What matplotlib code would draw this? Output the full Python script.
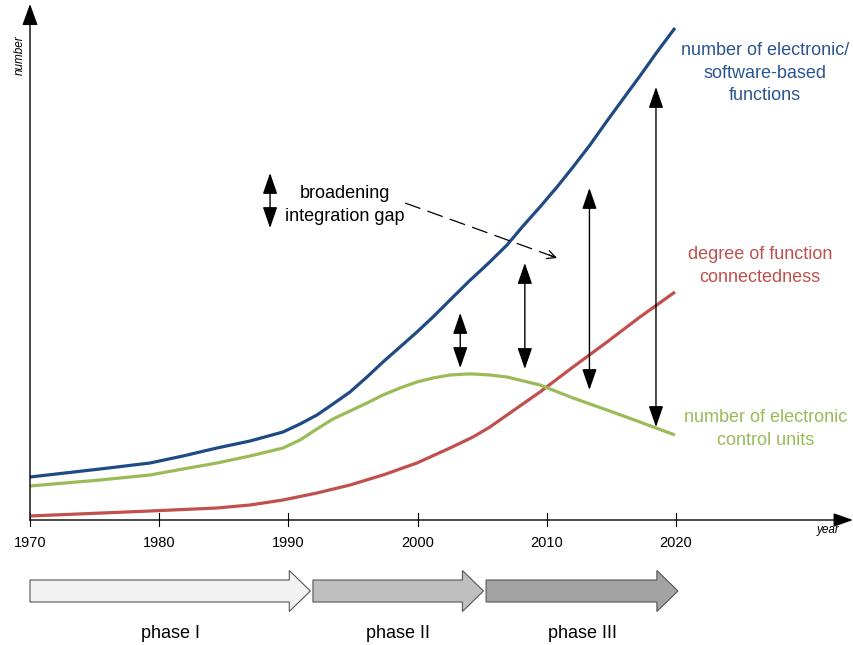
import numpy as np
import matplotlib.pyplot as plt
from matplotlib.patches import FancyArrow

plt.rcParams["font.family"] = ["Liberation Sans", "DejaVu Sans"]

# Curves (year, arbitrary "number")
blue_years = [1970, 1975.42, 1979.29, 1981.84, 1984.47, 1987.03, 1989.58, 1990.9, 1992.21,
              1993.45, 1994.77, 1996.08, 1997.32, 1998.64, 1999.95, 2001.19, 2002.51,
              2004.0, 2005.5, 2006.92, 2008.16, 2009.47, 2010.79, 2012.03, 2013.34, 2014.66,
              2015.9, 2017.21, 2018.53, 2019.92]
blue_vals = [43, 51, 57, 64, 72, 79, 88, 96, 105, 116, 128, 143, 158, 173, 188, 203, 220,
             239, 257, 275, 294, 313, 333, 353, 375, 399, 421, 444, 468, 492]

green_years = [1970, 1975.42, 1979.29, 1981.84, 1984.47, 1987.03, 1989.58, 1990.9, 1992.21,
               1993.45, 1994.77, 1996.08, 1997.32, 1998.64, 1999.95, 2001.19, 2002.51,
               2003.82, 2004.29, 2005.6, 2006.92, 2009.47, 2012.03, 2014.66, 2017.21,
               2019.92]
green_vals = [34, 40, 45, 51, 57, 64, 72, 80, 91, 101, 109, 117, 125, 132, 138, 142, 145,
              146, 146, 145, 143, 135, 122, 110, 98, 85]

red_years = [1970, 1979.29, 1984.47, 1987.03, 1989.58, 1992.21, 1994.77, 1997.32, 1999.95,
             2002.51, 2004.29, 2005.6, 2006.92, 2009.47, 2012.03, 2014.66, 2017.21, 2019.92]
red_vals = [4, 9, 12, 15, 20, 27, 35, 45, 57, 72, 83, 93, 105, 128, 153, 178, 203, 228]

tick_years = [1970, 1980, 1990, 2000, 2010, 2020]

# integration gap arrows
gap_years = [2003.3, 2008.3, 2013.3, 2018.45]
gap_top = [207, 257, 332, 433]
gap_bottom = [152, 151, 130, 93]

# phases
phase_names = ["phase I", "phase II", "phase III"]
phase_start = [1970, 1991.9, 2005.3]
phase_end = [1991.7, 2005.1, 2020.15]
phase_colors = ["#f2f2f2", "#bfbfbf", "#a3a3a3"]

blue = "#1f4a83"
red = "#c0504d"
green = "#9bbb59"

fig = plt.figure(figsize=(8.54, 6.45), dpi=100)
ax = fig.add_axes([0, 0, 1, 1])
ax.set_xlim(1967.678, 2033.777)
ax.set_ylim(-125, 520)
ax.axis("off")

# axes with arrows
ax.annotate("", xy=(1970, 516), xytext=(1970, 0),
            arrowprops=dict(arrowstyle="-|>,head_length=1.1,head_width=0.4",
                            mutation_scale=12, color="black", lw=1, shrinkA=0, shrinkB=0))
ax.annotate("", xy=(2033.7, 0), xytext=(1970, 0),
            arrowprops=dict(arrowstyle="-|>,head_length=1.0,head_width=0.35",
                            mutation_scale=12, color="black", lw=1, shrinkA=0, shrinkB=0))
ax.text(1969.2, 465, "number", rotation=90, style="italic", fontsize=8.5,
        ha="center", va="center")
ax.text(2031.76, -10, "year", style="italic", fontsize=8.5, ha="center", va="center")

for yr in tick_years:
    ax.plot([yr, yr], [-6, 7], color="black", lw=0.8)
    ax.text(yr, -23, str(yr), fontsize=10.5, ha="center", va="center")

# curves
ax.plot(red_years, red_vals, color=red, lw=2.3, solid_capstyle="butt")
ax.plot(green_years, green_vals, color=green, lw=2.3, solid_capstyle="butt")
ax.plot(blue_years, blue_vals, color=blue, lw=2.3, solid_capstyle="butt")

# gap arrows
for x, top, bot in zip(gap_years, gap_top, gap_bottom):
    ax.annotate("", xy=(x, top), xytext=(x, bot),
                arrowprops=dict(arrowstyle="<|-|>,head_length=1.3,head_width=0.45",
                                mutation_scale=10, color="black", lw=1,
                                shrinkA=0, shrinkB=0))

ax.annotate("", xy=(1988.58, 347), xytext=(1988.58, 292),
            arrowprops=dict(arrowstyle="<|-|>,head_length=1.3,head_width=0.45",
                            mutation_scale=10, color="black", lw=1, shrinkA=0, shrinkB=0))
ax.text(1994.4, 315, "broadening\nintegration gap", fontsize=13, ha="center",
        va="center", linespacing=1.4)

# dashed pointer
ax.plot([1999.03, 2010.6], [317, 263], color="black", lw=0.9, dashes=(13, 6))
ax.annotate("", xy=(2010.79, 262), xytext=(2010.2, 264.8),
            arrowprops=dict(arrowstyle="->,head_length=0.6,head_width=0.3",
                            mutation_scale=10, color="black", lw=0.9,
                            shrinkA=0, shrinkB=0))

# series labels
ax.text(2026.9, 447, "number of electronic/\nsoftware-based\nfunctions", color="#2a5591",
        fontsize=13, ha="center", va="center", linespacing=1.4)
ax.text(2026.5, 254, "degree of function\nconnectedness", color=red,
        fontsize=13, ha="center", va="center", linespacing=1.4)
ax.text(2026.9, 91, "number of electronic\ncontrol units", color=green,
        fontsize=13, ha="center", va="center", linespacing=1.4)

# phase arrows
for name, s, e, c in zip(phase_names, phase_start, phase_end, phase_colors):
    head = 1.63
    arr = FancyArrow(s, -71, e - s, 0, width=22, head_width=41, head_length=head,
                     length_includes_head=True, facecolor=c, edgecolor="#555555", lw=0.8)
    ax.add_patch(arr)
    ax.text((s + e) / 2, -113, name, fontsize=13, ha="center", va="center")

fig.savefig("out.png", dpi=100)
